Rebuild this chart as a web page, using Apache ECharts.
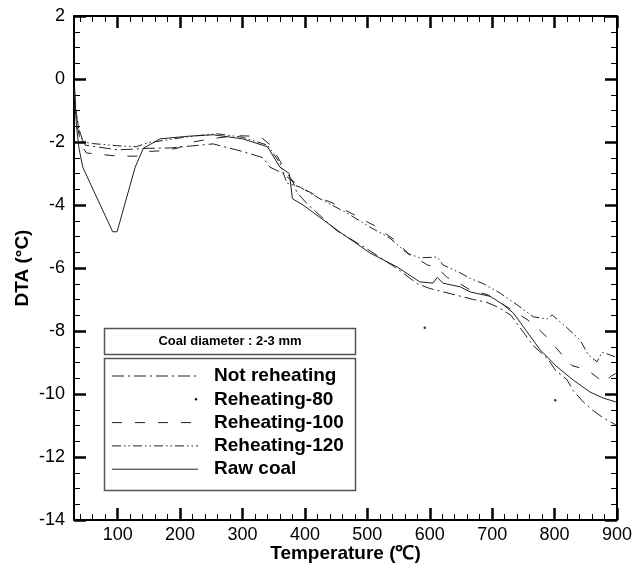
<!DOCTYPE html>
<html>
<head>
<meta charset="utf-8">
<script src="https://cdn.jsdelivr.net/npm/echarts@6/dist/echarts.min.js"></script>
<style>
html,body{margin:0;padding:0;background:#fff;}
#chart{width:634px;height:568px;}
</style>
</head>
<body>
<div id="chart"></div>
<script>
var seriesNames = ['Not reheating', 'Reheating-80', 'Reheating-100', 'Reheating-120', 'Raw coal'];
var xMajor = [100, 200, 300, 400, 500, 600, 700, 800, 900];
var xMinor = [40, 60, 80, 120, 140, 160, 180, 220, 240, 260, 280, 320, 340, 360, 380, 420, 440, 460, 480,
	520, 540, 560, 580, 620, 640, 660, 680, 720, 740, 760, 780, 820, 840, 860, 880];

// [temperature, DTA]
var notReheating = [[31,-0.5],[34,-1.2],[40,-1.8],[48,-2.1],[100,-2.25],[150,-2.2],[184,-2.19],[253,-2.06],
	[300,-2.3],[333,-2.5],[344,-2.8],[365,-3.0],[381,-3.27],[387,-3.6],[403,-3.95],[450,-4.8],[500,-5.4],
	[550,-6.05],[580,-6.5],[600,-6.65],[620,-6.75],[650,-6.9],[670,-7.0],[690,-7.08],[710,-7.25],[730,-7.5],
	[756,-8.2],[765,-8.45],[790,-8.9],[801,-9.24],[820,-9.55],[830,-9.9],[846,-10.25],[860,-10.5],
	[878,-10.76],[898,-10.98]];
var reheating80 = [[592,-7.9],[801,-10.2]];
var reheating100 = [[31,-0.8],[35,-1.5],[42,-2.1],[50,-2.35],[67,-2.38],[100,-2.45],[131,-2.45],[147,-2.3],
	[173,-2.28],[195,-2.2],[221,-2.0],[248,-1.9],[290,-1.8],[328,-1.82],[345,-2.1],[360,-2.6],[375,-3.1],
	[389,-3.43],[408,-3.59],[424,-3.78],[445,-3.94],[464,-4.16],[480,-4.32],[500,-4.54],[516,-4.7],[532,-4.95],
	[548,-5.17],[568,-5.6],[580,-5.7],[596,-5.9],[612,-6.0],[628,-6.3],[644,-6.45],[665,-6.7],[693,-6.85],
	[725,-7.25],[757,-7.65],[772,-7.9],[788,-8.2],[801,-8.5],[814,-8.8],[828,-9.1],[841,-9.17],[857,-9.3],
	[870,-9.5],[880,-9.65],[889,-9.45],[898,-9.35]];
var reheating120 = [[31,-0.3],[33,-1.0],[38,-1.6],[45,-2.0],[60,-2.05],[100,-2.12],[130,-2.15],[147,-2.03],
	[200,-1.87],[226,-1.8],[260,-1.74],[300,-1.85],[340,-2.1],[360,-2.67],[371,-3.3],[392,-3.43],[424,-3.8],
	[467,-4.25],[504,-4.7],[536,-5.05],[563,-5.52],[584,-5.68],[612,-5.65],[621,-5.9],[649,-6.16],[665,-6.33],
	[685,-6.49],[713,-6.8],[740,-7.17],[766,-7.55],[788,-7.62],[796,-7.49],[820,-7.9],[841,-8.29],[854,-8.76],
	[868,-8.98],[876,-8.67],[889,-8.76],[898,-8.83]];
var rawCoal = [[31,-0.4],[34,-1.5],[38,-2.2],[44,-2.8],[92,-4.85],[99,-4.85],[128,-2.8],[141,-2.2],[168,-1.9],
	[211,-1.82],[253,-1.77],[300,-1.9],[340,-2.15],[360,-2.8],[375,-3.0],[380,-3.8],[397,-4.0],[456,-4.86],
	[504,-5.52],[548,-5.97],[584,-6.44],[605,-6.48],[612,-6.3],[621,-6.48],[649,-6.6],[665,-6.76],[697,-6.9],
	[718,-7.17],[734,-7.43],[756,-8.03],[777,-8.6],[804,-9.14],[830,-9.56],[857,-9.94],[878,-10.13],[898,-10.25]];

var font = 'Liberation Sans, Arial, sans-serif';
var ink = '#222';
var dashes = [[12, 4, 2, 4], null, [10, 13], [9, 3, 1.5, 3, 1.5, 3], 'solid'];

var chart = echarts.init(document.getElementById('chart'));

function xAxisOf(pos, ticks, len, width, labels) {
	return {
		type: 'value', position: pos, min: 30, max: 900,
		axisLine: {show: labels, onZero: false, lineStyle: {color: '#000', width: 2}},
		axisTick: {show: true, inside: true, length: len, customValues: ticks, lineStyle: {color: '#000', width: width}},
		axisLabel: labels ? {customValues: xMajor, color: '#000', fontSize: 18, fontFamily: font, margin: 6} : {show: false},
		splitLine: {show: false}
	};
}
function yAxisOf(pos, labels) {
	return {
		type: 'value', position: pos, min: -14, max: 2, interval: 2,
		axisLine: {show: true, onZero: false, lineStyle: {color: '#000', width: 2}},
		axisTick: {inside: true, length: 12, lineStyle: {color: '#000', width: 2.5}},
		minorTick: {show: true, splitNumber: 4, length: 6, lineStyle: {color: '#000', width: 1}},
		axisLabel: labels ? {color: '#000', fontSize: 18, fontFamily: font, margin: 9} : {show: false},
		splitLine: {show: false}
	};
}

var xAxes = [xAxisOf('bottom', xMajor, 12, 2.5, true), xAxisOf('bottom', xMinor, 6, 1, false),
	xAxisOf('top', xMajor, 12, 2.5, true), xAxisOf('top', xMinor, 6, 1, false)];
xAxes[0].name = 'Temperature (℃)';
xAxes[0].nameLocation = 'middle';
xAxes[0].nameGap = 24;
xAxes[0].nameMoveOverlap = false;
xAxes[0].nameTextStyle = {color: '#000', fontSize: 19, fontWeight: 'bold', fontFamily: font};
xAxes[2].axisLabel = {show: false};

var yAxes = [yAxisOf('left', true), yAxisOf('right', false)];
yAxes[0].name = 'DTA (°C)';
yAxes[0].nameLocation = 'middle';
yAxes[0].nameGap = 42;
yAxes[0].nameMoveOverlap = false;
yAxes[0].nameTextStyle = {color: '#000', fontSize: 19, fontWeight: 'bold', fontFamily: font};

var lineData = [notReheating, reheating80, reheating100, reheating120, rawCoal];
var series = [];
for (var i = 0; i < lineData.length; i++) {
	if (i == 1) {
		series.push({name: seriesNames[i], type: 'scatter', data: lineData[i], symbolSize: 2.5,
			itemStyle: {color: '#000'}, silent: true});
	} else {
		series.push({name: seriesNames[i], type: 'line', data: lineData[i], showSymbol: false, symbol: 'none',
			lineStyle: {color: ink, width: 1, type: dashes[i]}, silent: true});
	}
}

// legend boxes drawn by hand
var legendItems = [
	{type: 'rect', shape: {x: 104.5, y: 328.5, width: 251, height: 26}, style: {fill: '#fff', stroke: '#555', lineWidth: 1.5}},
	{type: 'text', x: 230, y: 341.5, style: {text: 'Coal diameter : 2-3 mm', fill: '#000', font: 'bold 13px ' + font, align: 'center', verticalAlign: 'middle'}},
	{type: 'rect', shape: {x: 104.5, y: 358.5, width: 251, height: 132}, style: {fill: '#fff', stroke: '#555', lineWidth: 1.5}}
];
for (var j = 0; j < seriesNames.length; j++) {
	var rowY = 376 + j * 23.3;
	if (j == 1) {
		legendItems.push({type: 'circle', shape: {cx: 196, cy: rowY, r: 1.2}, style: {fill: '#000'}});
	} else {
		legendItems.push({type: 'line', shape: {x1: 112, y1: rowY, x2: 198, y2: rowY},
			style: {stroke: ink, lineWidth: 1, lineDash: dashes[j] == 'solid' ? null : dashes[j]}});
	}
	legendItems.push({type: 'text', x: 214, y: rowY, style: {text: seriesNames[j], fill: '#000',
		font: 'bold 19px ' + font, verticalAlign: 'middle'}});
}

chart.setOption({
	animation: false,
	backgroundColor: '#fff',
	grid: {left: 74, right: 17, top: 16, bottom: 48, containLabel: false, outerBoundsMode: 'none'},
	xAxis: xAxes,
	yAxis: yAxes,
	series: series,
	graphic: [{type: 'group', z: 100, children: legendItems}]
});
</script>
</body>
</html>
